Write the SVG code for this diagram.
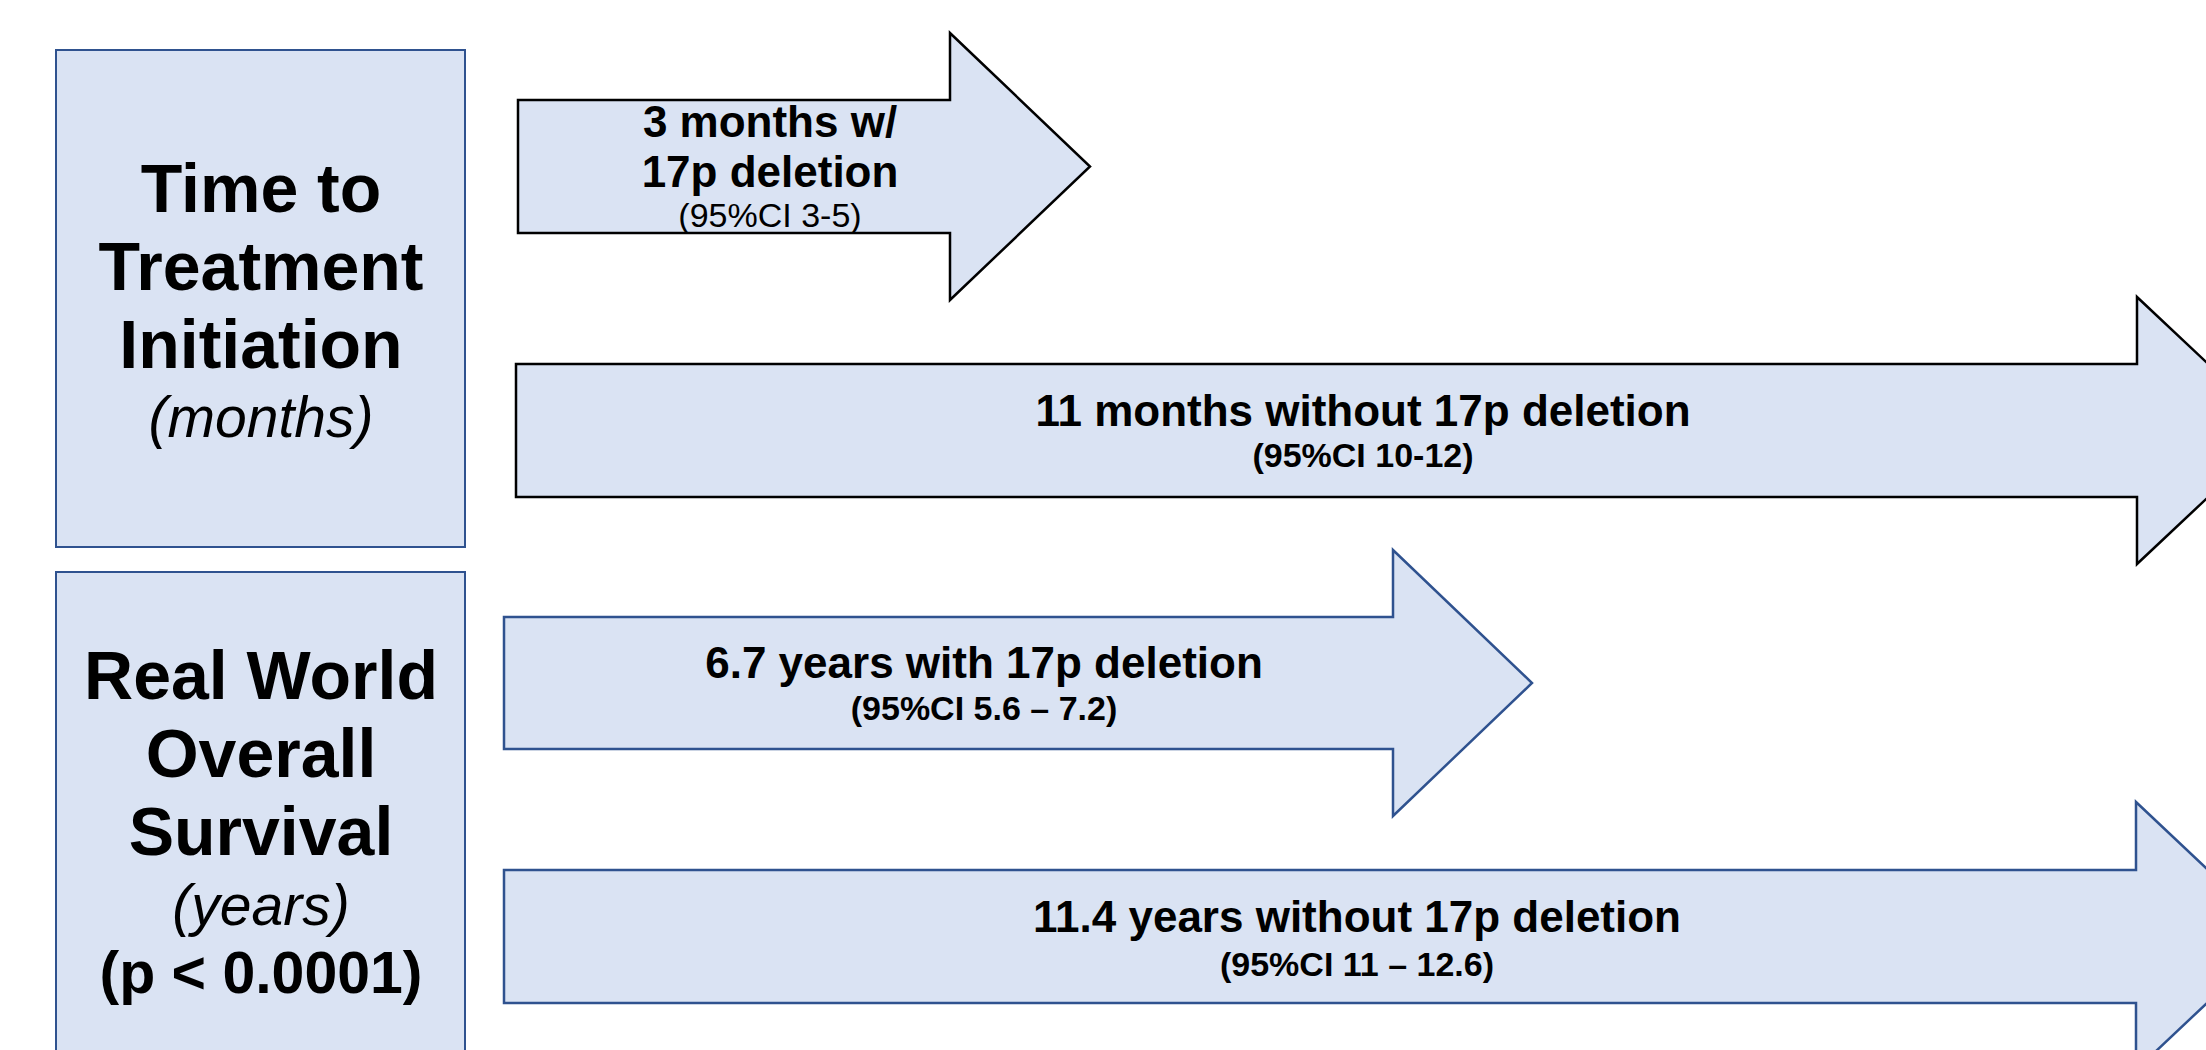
<svg xmlns="http://www.w3.org/2000/svg" width="2206" height="1050" viewBox="0 0 2206 1050">
<style>
.box{fill:#DAE3F3;stroke:#2F528F;stroke-width:2}
.arrK{fill:#DAE3F3;stroke:#000;stroke-width:2.5;stroke-linejoin:miter}
.arrB{fill:#DAE3F3;stroke:#2F528F;stroke-width:2.5;stroke-linejoin:miter}
text{font-family:"Liberation Sans",Arial,sans-serif;fill:#000;text-anchor:middle}
.h{font-size:68px;font-weight:bold}
.hi{font-size:57px;font-style:italic}
.hp{font-size:59px;font-weight:bold}
.m{font-size:44px;font-weight:bold}
.s{font-size:34px;font-weight:bold}
.sr{font-size:34px}
</style>
<rect width="2206" height="1050" fill="#fff"/>
<g id="box-tti">
<rect class="box" x="56" y="50" width="409" height="497"/>
<text class="h" x="261" y="212">Time to</text>
<text class="h" x="261" y="290">Treatment</text>
<text class="h" x="261" y="368">Initiation</text>
<text class="hi" x="261" y="437">(months)</text>
</g>
<g id="box-os">
<rect class="box" x="56" y="572" width="409" height="500"/>
<text class="h" x="261" y="699">Real World</text>
<text class="h" x="261" y="777">Overall</text>
<text class="h" x="261" y="855">Survival</text>
<text class="hi" x="261" y="925">(years)</text>
<text class="hp" x="261" y="993">(p &lt; 0.0001)</text>
</g>
<g id="connectors">
<g id="arrow-tti-17p">
<polygon class="arrK" points="518,100 950,100 950,33 1090,166.5 950,300 950,233 518,233"/>
<text class="m" x="770" y="137">3 months w/</text>
<text class="m" x="770" y="187">17p deletion</text>
<text class="sr" x="770" y="227">(95%CI 3-5)</text>
</g>
<g id="arrow-tti-no17p">
<polygon class="arrK" points="516,364 2137,364 2137,297 2279,430.5 2137,564 2137,497 516,497"/>
<text class="m" x="1363" y="426">11 months without 17p deletion</text>
<text class="s" x="1363" y="467">(95%CI 10-12)</text>
</g>
<g id="arrow-os-17p">
<polygon class="arrB" points="504,617 1393,617 1393,550 1532,683 1393,816 1393,749 504,749"/>
<text class="m" x="984" y="678">6.7 years with 17p deletion</text>
<text class="s" x="984" y="720">(95%CI 5.6 – 7.2)</text>
</g>
<g id="arrow-os-no17p">
<polygon class="arrB" points="504,870 2136,870 2136,802 2278,936 2136,1070 2136,1003 504,1003"/>
<text class="m" x="1357" y="932">11.4 years without 17p deletion</text>
<text class="s" x="1357" y="976">(95%CI 11 – 12.6)</text>
</g>
</g>
</svg>
